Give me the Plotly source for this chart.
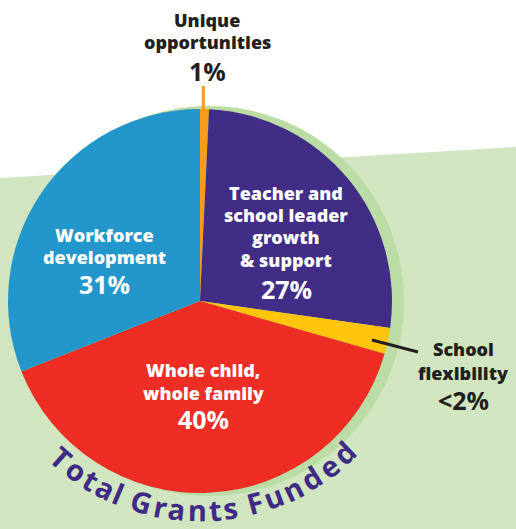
import plotly.graph_objects as go
import math

# ---------------- data ----------------
categories = ["Unique opportunities", "Teacher and school leader growth & support",
              "School flexibility", "Whole child, whole family", "Workforce development"]
shares = [0.75, 26.5, 2.2, 39.6, 31.0]
pct_labels = ["1%", "27%", "<2%", "40%", "31%"]
label_lines = [["Unique", "opportunities"],
               ["Teacher and", "school leader", "growth", "& support"],
               ["School", "flexibility"],
               ["Whole child,", "whole family"],
               ["Workforce", "development"]]
colors = ["#F89C1C", "#412C86", "#FFC60B", "#EE2E24", "#2397CB"]
title_arc = "Total Grants Funded"

# ---------------- layout helpers ----------------
W, H = 516, 529
def px(x): return x / W
def py(y): return 1 - y / H

CX, CY, R = 200, 301, 192
FONT = "Open Sans"
DARK = "#231F20"

fig = go.Figure()
fig.add_trace(go.Pie(
    labels=categories, values=shares, sort=False, direction="clockwise",
    rotation=0, marker=dict(colors=colors, line=dict(width=0)),
    textinfo="none", hoverinfo="label+percent", showlegend=False,
    domain=dict(x=[px(CX - R), px(CX + R)], y=[py(CY + R), py(CY - R)]),
))

shapes = [
    dict(type="path", xref="paper", yref="paper", layer="below",
         path=f"M {px(0)},{py(178)} L {px(516)},{py(147)} L {px(516)},{py(529)} L {px(0)},{py(529)} Z",
         fillcolor="#D1E6C0", line=dict(width=0)),
    dict(type="circle", xref="paper", yref="paper", layer="below",
         x0=px(209 - 195), x1=px(209 + 195), y0=py(301 + 195), y1=py(301 - 195),
         fillcolor="#BBDCA5", line=dict(width=0)),
    dict(type="line", xref="paper", yref="paper", layer="above",
         x0=px(203.3), x1=px(203.3), y0=py(86), y1=py(112),
         line=dict(color="#F89C1C", width=3)),
    dict(type="line", xref="paper", yref="paper", layer="above",
         x0=px(372), x1=px(418), y0=py(340), y1=py(352),
         line=dict(color=DARK, width=3)),
]

label_pos = [
    (207, [19.5, 42.5], 71, DARK, 18, 25),
    (286, [192.5, 215, 237.5, 260], 288.5, "white", 18, 25),
    (463, [349, 372.5], 400, DARK, 18, 25),
    (203, [369.7, 393], 419, "white", 18, 25),
    (104, [234.5, 257], 283.5, "white", 18, 25),
]

annotations = []
for lines, pct, (x, ys, yp, col, fs, fsp) in zip(label_lines, pct_labels, label_pos):
    for t, yy in zip(lines, ys):
        annotations.append(dict(text=t, x=px(x), y=py(yy), xref="paper", yref="paper",
                                xanchor="center", yanchor="middle", showarrow=False,
                                font=dict(family=FONT, size=fs, color=col, weight=800)))
    annotations.append(dict(text=pct, x=px(x), y=py(yp), xref="paper", yref="paper",
                            xanchor="center", yanchor="middle", showarrow=False,
                            font=dict(family=FONT, size=fsp, color=col, weight=700)))

cw = {"T": .56, "o": .62, "t": .42, "a": .58, "l": .30, " ": .22, "G": .72, "r": .45,
      "n": .64, "s": .50, "F": .56, "u": .64, "e": .60, "d": .64}
widths = [cw.get(c, .58) for c in title_arc]
cum, acc = [], 0.0
for w in widths:
    cum.append(acc + w / 2)
    acc += w
a0, a1 = -41.5, 43.5
RT = 209
for c, pos in zip(title_arc, cum):
    if c == " ":
        continue
    f = (pos - cum[0]) / (cum[-1] - cum[0])
    phi = a0 + f * (a1 - a0)
    x = CX + RT * math.sin(math.radians(phi))
    y = CY + RT * math.cos(math.radians(phi))
    annotations.append(dict(text=c, x=px(x), y=py(y), xref="paper", yref="paper",
                            xanchor="center", yanchor="middle", showarrow=False, textangle=-phi,
                            font=dict(family=FONT, size=29, color="#3F2A86", weight=700)))

fig.update_layout(width=W, height=H, margin=dict(l=0, r=0, t=0, b=0),
                  paper_bgcolor="white", plot_bgcolor="white",
                  shapes=shapes, annotations=annotations)
fig.write_html("out.html", config={"displayModeBar": False},
               post_script="document.body.style.margin='0';")
